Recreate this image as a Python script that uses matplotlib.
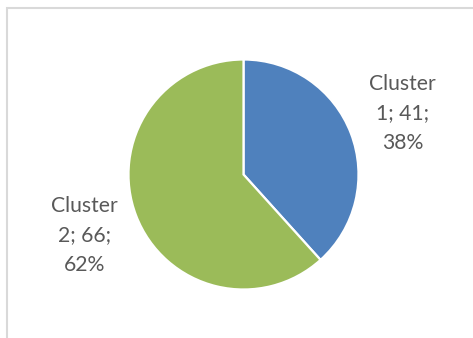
import matplotlib.pyplot as plt
from matplotlib.patches import Rectangle

categories = ['Cluster 1', 'Cluster 2']
values = [41, 66]
colors = ['#4F81BD', '#9BBB59']

W, H = 473, 338

fig = plt.figure(figsize=(W / 100, H / 100), dpi=100)
ax = fig.add_axes([0, 0, 1, 1])

total = sum(values)
labels = []
for name, v in zip(categories, values):
    word, num = name.split(' ')
    labels.append(f'{word}\n{num}; {v};\n{round(100 * v / total)}%')

wedges, texts = ax.pie(values, colors=colors, startangle=90, counterclock=False,
                       center=(243.5, H - 174.5), radius=115, labels=labels,
                       labeldistance=1.48,
                       wedgeprops=dict(edgecolor='white', linewidth=1.6),
                       textprops=dict(fontsize=15.2, color='#595959', family='Lato',
                                      linespacing=1.62))
for t in texts:
    t.set_ha('center')
    t.set_va('center')

# pie() resets the limits, so set them afterwards
ax.set_xlim(0, W)
ax.set_ylim(0, H)
ax.set_aspect('equal')
ax.axis('off')

# chart area border (cropped)
ax.add_patch(Rectangle((7, -20), W, H - 8 + 20, facecolor='none',
                       edgecolor='#D9D9D9', linewidth=1.5, clip_on=False))

fig.savefig('out.png', dpi=100)
